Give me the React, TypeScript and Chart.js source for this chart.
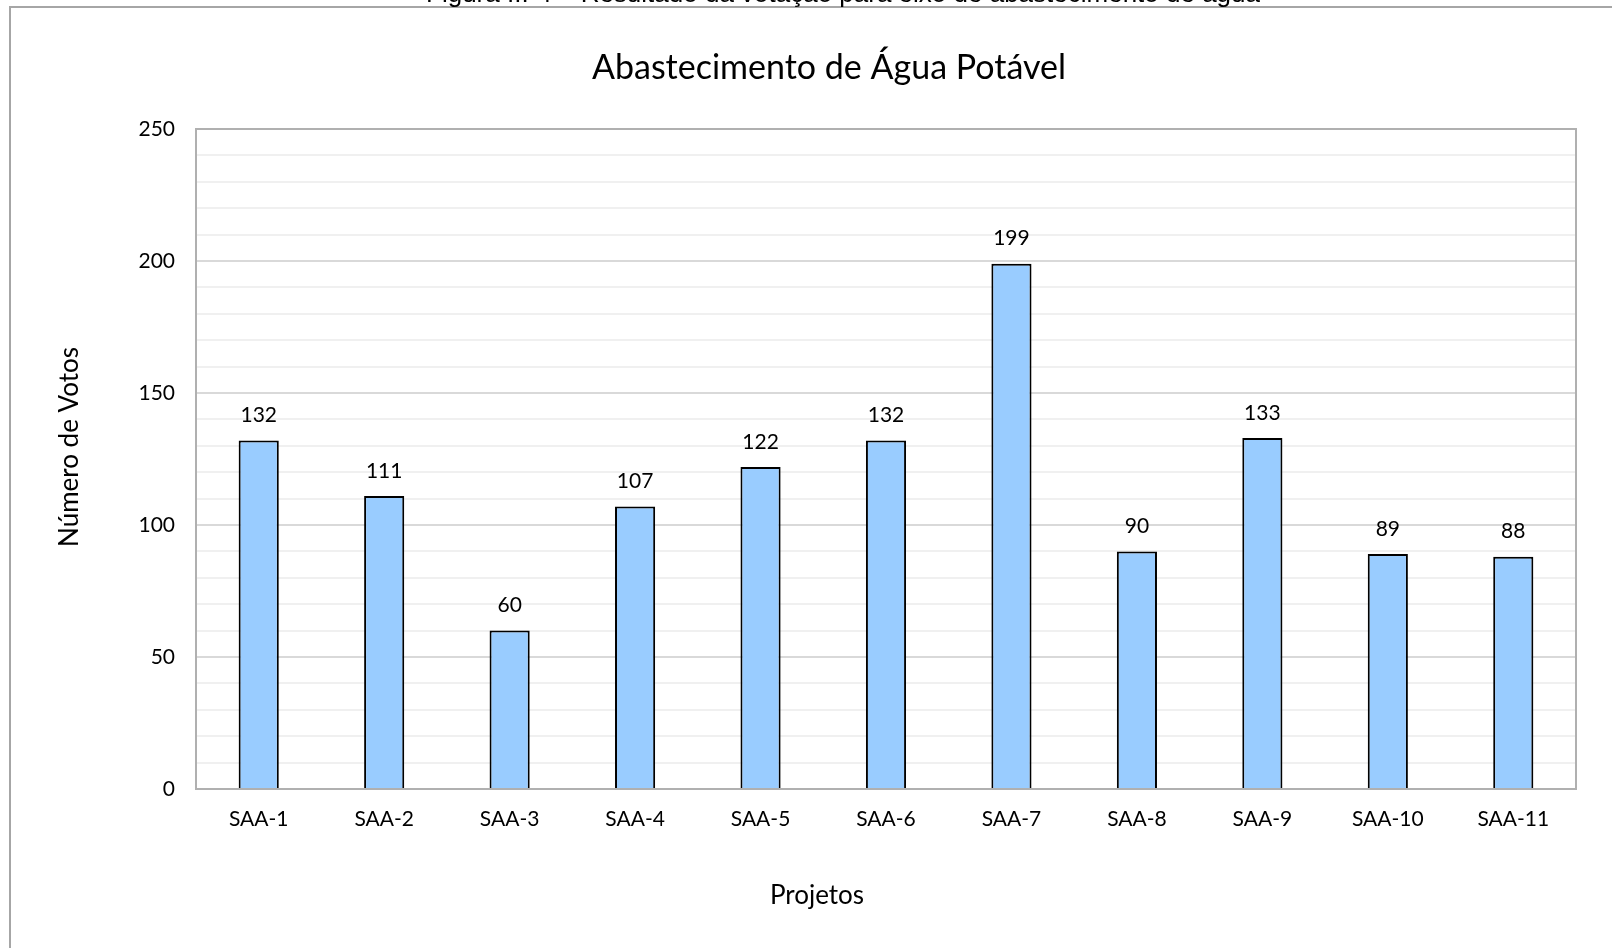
import React, { useEffect, useRef } from "react";
import { Chart, registerables } from "chart.js";

Chart.register(...registerables);

const categories = ["SAA-1", "SAA-2", "SAA-3", "SAA-4", "SAA-5", "SAA-6", "SAA-7", "SAA-8", "SAA-9", "SAA-10", "SAA-11"];
const votes = [132, 111, 60, 107, 122, 132, 199, 90, 133, 89, 88];
const majorTicks = [0, 50, 100, 150, 200, 250];

const chartTitle = "Abastecimento de Água Potável";
const xTitle = "Projetos";
const yTitle = "Número de Votos";
const caption = "Figura III-4 – Resultado da votação para eixo de abastecimento de água";

const FONT = "Lato";

const decorPlugin = {
  id: "decor",
  beforeDraw(chart: any) {
    const ctx = chart.ctx;
    ctx.save();
    ctx.fillStyle = "#ffffff";
    ctx.fillRect(0, 0, chart.width, chart.height);
    ctx.restore();
  },
  afterDraw(chart: any) {
    const ctx = chart.ctx;
    const area = chart.chartArea;
    ctx.save();
    // plot border
    ctx.strokeStyle = "#b0b0b0";
    ctx.lineWidth = 2;
    ctx.strokeRect(area.left, area.top, area.right - area.left, area.bottom - area.top);
    // outer frame
    ctx.strokeStyle = "#a6a6a6";
    ctx.lineWidth = 2;
    ctx.beginPath();
    ctx.moveTo(10, chart.height + 5);
    ctx.lineTo(10, 7);
    ctx.lineTo(chart.width + 5, 7);
    ctx.stroke();
    // caption (cut off at top)
    ctx.fillStyle = "#000000";
    ctx.font = `26px "Liberation Sans"`;
    ctx.textAlign = "center";
    ctx.textBaseline = "alphabetic";
    ctx.fillText(caption, 843, 2);
    // title
    ctx.fillStyle = "#000000";
    ctx.font = `34px ${FONT}`;
    ctx.textBaseline = "middle";
    ctx.fillText(chartTitle, 829, 68);
    // x title
    ctx.font = `26px ${FONT}`;
    ctx.fillText(xTitle, 817, 896);
    // y title
    ctx.save();
    ctx.translate(70, 447);
    ctx.rotate(-Math.PI / 2);
    ctx.fillText(yTitle, 0, 0);
    ctx.restore();
    // data labels
    const meta = chart.getDatasetMeta(0);
    ctx.font = `21px ${FONT}`;
    ctx.fillStyle = "#000000";
    meta.data.forEach((bar: any, i: number) => {
      ctx.fillText(String(votes[i]), bar.x, bar.y - 25);
    });
    ctx.restore();
  },
};

export default function App() {
  const ref = useRef<HTMLCanvasElement>(null);
  useEffect(() => {
    if (!ref.current) return;
    const chart = new Chart(ref.current, {
      type: "bar",
      data: {
        labels: categories,
        datasets: [
          {
            data: votes,
            backgroundColor: "#99CCFF",
            borderColor: "#000000",
            borderWidth: 2,
            barPercentage: 0.32,
            categoryPercentage: 1,
          },
        ],
      },
      options: {
        responsive: false,
        animation: false,
        layout: { padding: { top: 129, left: 0, right: 36, bottom: 0 } },
        plugins: {
          legend: { display: false },
          title: { display: false },
          tooltip: { enabled: false },
        },
        scales: {
          x: {
            grid: { display: false, drawTicks: false },
            border: { display: false },
            ticks: { color: "#000000", font: { family: FONT, size: 21 }, padding: 18, maxRotation: 0 },
            afterFit: (s: any) => {
              s.height = 948 - 789;
            },
          },
          y: {
            min: 0,
            max: 250,
            grid: {
              drawTicks: false,
              color: (c: any) => (c.tick && majorTicks.includes(c.tick.value) ? "#d9d9d9" : "#f0f0f0"),
              lineWidth: 2,
            },
            border: { display: false },
            ticks: {
              stepSize: 10,
              autoSkip: false,
              color: "#000000",
              font: { family: FONT, size: 21 },
              padding: 21,
              callback: (v: any) => (majorTicks.includes(Number(v)) ? String(v) : ""),
            },
            afterFit: (s: any) => {
              s.width = 196;
            },
          },
        },
      },
      plugins: [decorPlugin],
    });
    return () => chart.destroy();
  }, []);
  return (
    <div style={{ position: "fixed", left: 0, top: 0, width: 1612, height: 948, background: "#fff" }}>
      <canvas ref={ref} width={1612} height={948} style={{ display: "block" }} />
    </div>
  );
}
